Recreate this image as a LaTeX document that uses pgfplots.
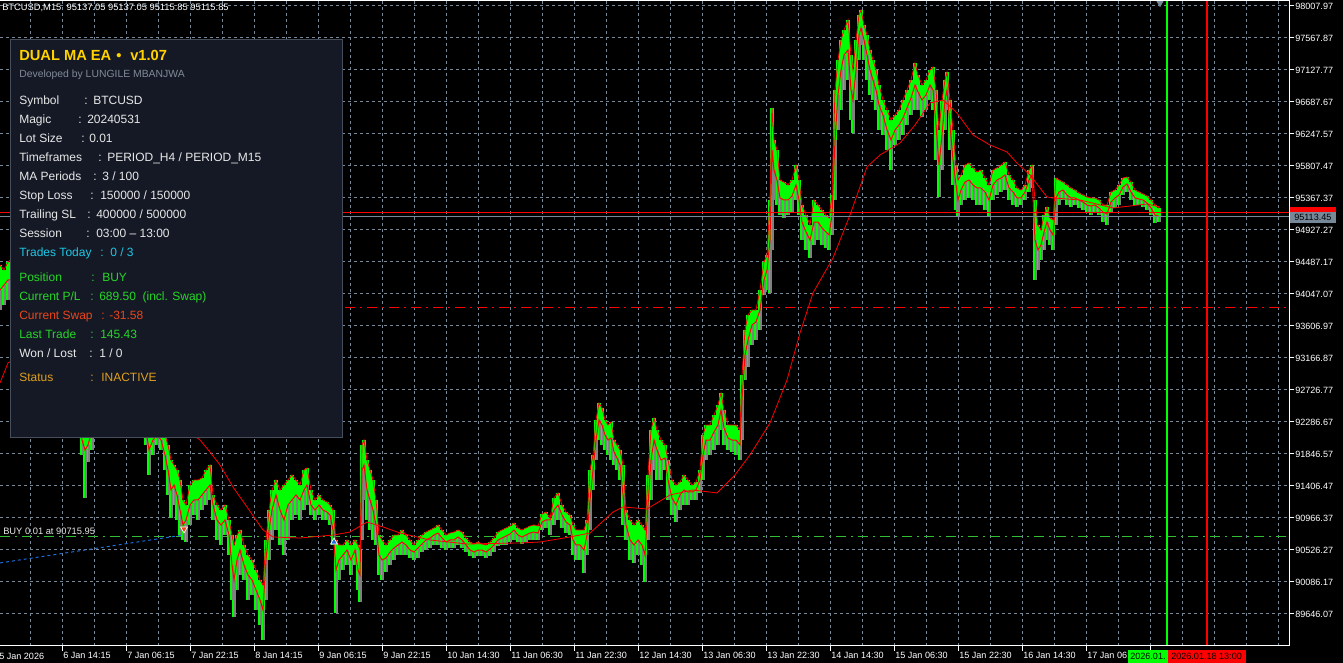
\documentclass[border=0pt]{standalone}
\usepackage{fontspec}
\setmainfont{Liberation Sans}
\usepackage{pgfplots}
\pgfplotsset{compat=1.18}
\usepackage{pgfplotstable}
\definecolor{gridc}{RGB}{119,136,153}
\definecolor{cgreen}{RGB}{0,255,0}
\definecolor{cred}{RGB}{255,0,0}
\definecolor{cgray}{RGB}{128,128,128}
\definecolor{panelbg}{RGB}{20,25,37}
\definecolor{panelb}{RGB}{70,78,92}
\definecolor{gold}{RGB}{255,210,0}
\definecolor{devgray}{RGB}{130,138,152}
\definecolor{ptext}{RGB}{232,232,232}
\definecolor{pcyan}{RGB}{30,200,230}
\definecolor{pgreen}{RGB}{40,215,40}
\definecolor{pswap}{RGB}{235,70,25}
\definecolor{pstatus}{RGB}{225,160,30}
\definecolor{tradeblue}{RGB}{30,110,220}
\definecolor{entryg}{RGB}{50,190,50}

\pgfplotstableread{
x lo hi cl
0 93827 94446 94102
4 93896 94377 94171
8 93965 94487 94240
16 93965 94583 94240
24 93690 94377 93965
32 93552 94102 93827
40 93277 93965 93552
48 93002 93552 93277
56 92864 93414 93139
64 92589 93139 92795
72 92314 92864 92589
78 92177 92658 92383
82 91833 92314 92039
85 91242 92177 91902
88 91736 92245 91970
92 91902 92383 92177
100 92177 92727 92452
108 92314 92864 92589
116 92452 93002 92727
124 92383 92864 92658
132 92245 92727 92452
140 92108 92589 92314
146 91970 92452 92177
149 91558 92245 91902
153 91833 92314 92039
157 91970 92383 92108
161 91902 92314 92039
165 91627 92108 91833
168 91283 91970 91627
171 90966 91764 91352
174 91145 91695 91420
177 90939 91627 91283
180 90732 91489 91076
183 90664 91214 90870
186 90636 91145 90939
190 90870 91420 91145
194 91007 91489 91214
198 90939 91489 91214
202 91076 91517 91283
206 91145 91627 91352
210 91214 91695 91420
213 90939 91283 91145
217 90664 91145 90939
221 90595 91076 90870
225 90732 91145 90939
229 90457 90939 90732
232 89839 90732 90320
234 89605 90595 90114
237 89976 90732 90389
240 90182 90801 90526
244 90114 90595 90320
248 89839 90457 90182
252 89907 90389 90114
256 89701 90251 89976
260 89495 90114 89839
263 89288 90045 89701
266 89839 90664 90389
269 90389 91076 90801
272 90664 91352 91076
276 90801 91489 91283
280 90595 91352 91076
284 90457 91420 90939
288 90664 91489 91145
292 90939 91558 91214
296 91007 91489 91283
300 90939 91420 91214
304 91076 91627 91352
307 91145 91655 91420
311 91007 91352 91145
315 90939 91214 91076
319 91007 91283 91145
323 90939 91214 91076
327 90939 91186 91048
330 90870 91145 91007
333 90595 91076 90801
336 89660 90664 90251
339 90114 90595 90389
343 90251 90595 90457
347 90320 90664 90526
351 90182 90595 90389
355 90320 90664 90526
358 89976 90595 90251
360 89811 90526 90182
362 90664 91970 91627
364 91214 92039 91695
367 90939 91764 91352
370 90801 91627 91214
373 90664 91489 91076
376 90595 91214 90870
379 90182 90732 90457
382 90114 90664 90389
386 90223 90595 90416
390 90320 90664 90498
394 90389 90732 90554
398 90457 90732 90595
402 90457 90801 90636
406 90457 90732 90595
410 90416 90664 90526
414 90389 90595 90498
418 90416 90664 90554
422 90498 90732 90609
426 90526 90773 90664
430 90554 90801 90691
434 90595 90829 90732
438 90595 90870 90760
442 90554 90801 90691
446 90526 90732 90636
450 90554 90760 90664
454 90554 90773 90664
458 90595 90801 90705
462 90554 90773 90664
466 90498 90691 90595
470 90443 90636 90526
474 90416 90609 90498
478 90443 90636 90526
482 90443 90609 90526
486 90416 90595 90498
490 90443 90636 90540
494 90498 90691 90595
498 90581 90773 90664
502 90595 90801 90691
506 90595 90829 90718
510 90636 90856 90746
514 90664 90898 90801
518 90636 90829 90732
522 90609 90801 90705
526 90636 90829 90732
530 90664 90856 90760
534 90664 90870 90773
538 90664 90856 90760
542 90801 91021 90911
546 90829 91048 90939
550 90732 90966 90939
554 90870 91242 91076
558 90939 91311 91145
562 90829 91145 91007
566 90760 91048 90911
570 90732 91007 90870
573 90457 90870 90664
576 90389 90801 90595
580 90389 90801 90595
584 90210 90801 90526
587 90457 90939 90732
590 90801 91627 91214
593 91352 91833 91627
596 91764 92314 92039
599 92039 92548 92314
602 91970 92479 92245
605 91902 92314 92108
608 91833 92245 92039
611 91764 92286 92067
614 91695 92039 91874
617 91627 91970 91792
620 91489 91902 91695
623 90870 91695 91283
626 90664 91076 90870
630 90389 90939 90664
634 90348 90870 90595
638 90457 90939 90664
642 90320 90870 90595
645 90086 90801 90457
648 90664 91558 91145
651 91214 92177 91764
654 91627 92342 92039
657 91489 92177 91902
661 91489 92039 91764
665 91627 91970 91792
668 91214 91764 91489
672 91007 91489 91242
676 90911 91420 91145
680 91076 91461 91283
684 91145 91558 91352
688 91145 91489 91324
692 91214 91420 91324
696 91214 91461 91352
700 91311 91627 91489
703 91489 92108 91833
706 91764 92245 92039
710 91833 92245 92039
714 91902 92383 92149
718 91970 92520 92245
721 92177 92686 92452
724 91970 92452 92204
728 91902 92245 92067
732 91874 92245 92039
736 91833 92245 92039
740 91764 92177 91970
742 92039 92933 92589
745 92864 93552 93208
748 93043 93758 93414
752 93345 93827 93621
756 93414 93827 93662
760 93552 94102 93827
764 94033 94487 94240
767 94102 94583 94377
770 94061 95340 94790
772 94652 96606 96028
774 95340 96165 95753
777 95271 96028 95615
780 95133 95615 95368
784 95093 95587 95340
788 95133 95546 95340
792 95174 95615 95394
796 95340 95821 95546
799 95133 95615 95340
802 94790 95271 95037
806 94652 95133 94899
810 94543 94996 94790
814 94721 95340 95037
818 94790 95271 95037
822 94721 95202 94955
826 94680 95133 94899
829 94652 95093 94858
832 94858 95408 95133
835 95340 96853 96165
838 96303 97265 96784
841 96578 97540 97128
844 96853 97678 97334
848 96990 97815 97403
851 96440 97334 96853
853 96262 97128 96715
856 96715 97540 97128
859 97265 97884 97609
861 97471 97953 97705
864 97265 97746 97540
867 96990 97609 97334
870 96784 97403 97128
873 96715 97265 96990
876 96578 97128 96853
879 96303 96921 96646
883 96234 96715 96509
887 96028 96578 96303
891 95753 96440 96165
895 96096 96509 96303
899 96165 96578 96371
903 96234 96715 96468
907 96371 96853 96606
911 96509 96990 96743
915 96578 97224 96921
918 96578 97059 96825
922 96482 96921 96715
926 96578 96990 96784
930 96715 97128 96921
933 96578 97169 96853
936 95890 96853 96371
939 95381 96303 95821
942 95753 96715 96234
945 96303 96990 96715
947 96578 97100 96853
950 96028 96715 96371
953 95546 96303 95890
956 95202 95821 95546
958 95106 95615 95340
961 95271 95684 95477
965 95340 95821 95587
969 95368 95849 95615
973 95340 95781 95546
977 95271 95725 95505
981 95271 95753 95505
985 95202 95643 95449
989 95106 95546 95340
993 95340 95753 95546
997 95408 95781 95615
1001 95449 95821 95643
1005 95477 95862 95684
1009 95340 95684 95505
1013 95271 95615 95449
1017 95244 95505 95368
1021 95271 95477 95368
1025 95340 95546 95449
1029 95449 95753 95615
1032 95505 95821 95684
1035 94240 95340 94790
1038 94377 94996 94652
1041 94515 94927 94721
1044 94652 95133 94899
1047 94790 95244 95037
1050 94721 95093 94927
1053 94652 95065 94858
1056 94996 95643 95368
1059 95271 95615 95449
1063 95340 95587 95477
1067 95271 95546 95408
1071 95244 95505 95368
1075 95271 95477 95368
1079 95230 95436 95340
1083 95202 95408 95312
1087 95174 95381 95271
1091 95133 95368 95257
1095 95161 95368 95271
1099 95133 95340 95230
1103 95037 95271 95174
1107 94996 95271 95147
1111 95174 95449 95312
1115 95230 95477 95368
1119 95271 95546 95408
1123 95408 95643 95518
1127 95449 95656 95560
1131 95340 95587 95449
1135 95271 95477 95368
1139 95271 95449 95353
1143 95244 95422 95340
1147 95202 95394 95299
1151 95133 95340 95230
1155 95024 95271 95133
1159 95037 95230 95115.85
}\candles

\pgfplotstableread{
x ma
0 92823
8 93098
20 93208
40 93277
60 93139
80 92933
100 92795
120 92658
140 92520
160 92383
180 92245
200 92039
210 91874
220 91695
233 91393
247 91118
263 90801
273 90705
300 90691
333 90732
350 90773
367 90911
383 90843
400 90760
430 90664
467 90609
520 90623
540 90636
570 90705
590 90760
613 91048
623 91118
647 91090
670 91283
693 91352
717 91311
735 91558
750 91833
770 92273
787 92864
800 93511
813 94061
833 94543
850 95133
867 95793
880 95959
900 96124
915 96371
930 96674
943 96715
957 96537
973 96234
990 96096
1007 96000
1017 95849
1030 95684
1047 95381
1053 95368
1080 95340
1113 95230
1147 95285
1160 95244
}\maline

\tikzset{pt/.style={anchor=base west, inner sep=0pt, font=\fontsize{9}{11}\selectfont}}
\newcommand\pl[6]{%
  \node[pt,text=#6] at (19,#1) {#2};
  \node[pt,text=#6] at (#3,#1) {:};
  \node[pt,text=#6] at (#4,#1) {#5};}

\begin{document}
\begin{tikzpicture}
\fill[black] (0,0) rectangle (1007.25pt,497.25pt);
\begin{scope}
\clip (0,0) rectangle (1007.25pt,497.25pt);
\begin{axis}[
  at={(0pt,12.75pt)}, anchor=south west,
  scale only axis, width=966.75pt, height=483.75pt,
  xmin=0, xmax=1289, ymin=89205.97, ymax=98076.7,
  axis line style={draw=none},
  xtick={62,126,190,254,318,382,446,510,574,638,702,766,830,894,958,1022,1086,1150},
  xticklabels={6 Jan 14:15, 7 Jan 06:15, 7 Jan 22:15, 8 Jan 14:15, 9 Jan 06:15, 9 Jan 22:15, 10 Jan 14:30, 11 Jan 06:30, 11 Jan 22:30, 12 Jan 14:30, 13 Jan 06:30, 13 Jan 22:30, 14 Jan 14:30, 15 Jan 06:30, 15 Jan 22:30, 16 Jan 14:30, 17 Jan 06:, {}},
  minor xtick={30,94,158,222,286,350,414,478,542,606,670,734,798,862,926,990,1054,1118,1182,1246,1214,1278},
  ytick={89646.07,90086.17,90526.27,90966.37,91406.47,91846.57,92286.67,92726.77,93166.87,93606.97,94047.07,94487.17,94927.27,95367.37,95807.47,96247.57,96687.67,97127.77,97567.87,98007.97},
  yticklabels={89646.07,90086.17,90526.27,90966.37,91406.47,91846.57,92286.67,92726.77,93166.87,93606.97,94047.07,94487.17,94927.27,95367.37,95807.47,96247.57,96687.67,97127.77,97567.87,98007.97},
  xtick pos=left, ytick pos=right, yticklabel pos=right,
  tick align=outside, major tick length=3.75pt, minor tick length=0pt,
  major tick style={white, line width=0.75pt},
  xmajorgrids, xminorgrids, ymajorgrids,
  major grid style={draw=gridc, line width=0.75pt, dash pattern=on 2.25pt off 2.25pt},
  minor grid style={draw=gridc, line width=0.75pt, dash pattern=on 2.25pt off 2.25pt},
  tick label style={font=\fontsize{6.8}{8}\selectfont, text=white},
  xticklabel style={anchor=north west, inner sep=0.75pt},
  yticklabel style={anchor=west, inner sep=0pt, xshift=0.75pt},
]
% entry and stop lines
\addplot[entryg, line width=0.75pt, dash pattern=on 7.5pt off 3.75pt on 1.5pt off 3.75pt] coordinates {(0,90715.95) (1289,90715.95)};
\addplot[cred, line width=0.75pt, dash pattern=on 7.5pt off 3.75pt on 1.5pt off 3.75pt] coordinates {(345,93868) (1289,93868)};
% candles
\addplot[cgreen, line width=2.4pt, quiver={u=0, v=\thisrow{hi}-\thisrow{lo}}] table[x=x, y=lo] {\candles};
\addplot[cgray, line width=0.9pt, xshift=0.75pt, quiver={u=0, v=\thisrow{cl}-\thisrow{lo}}] table[x=x, y=lo] {\candles};
\addplot[cred, line width=0.6pt] table[x=x, y=hi] {\candles};
\addplot[cred, line width=0.75pt] table[x=x, y=cl] {\candles};
% moving average
\addplot[cred, line width=0.6pt] table[x=x, y=ma] {\maline};
% bid / ask
\addplot[cred, line width=0.75pt] coordinates {(0,95163.45) (1289,95163.45)};
\addplot[gridc, line width=0.75pt] coordinates {(0,95113.45) (1289,95113.45)};
% vertical session lines
\addplot[cgreen, line width=1.5pt] coordinates {(1167,89205.97) (1167,98076.7)};
\addplot[cred, line width=1.5pt] coordinates {(1207,89205.97) (1207,98076.7)};
% trade
\addplot[tradeblue, line width=0.75pt, dash pattern=on 2.25pt off 2.25pt] coordinates {(0,90348) (183,90732)};
\addplot[only marks, mark=triangle*, mark size=3pt, mark options={rotate=180, fill=pswap, draw=white, line width=0.5pt}] coordinates {(184,90815)};
\addplot[only marks, mark=triangle*, mark size=3pt, mark options={fill=tradeblue, draw=white, line width=0.5pt}] coordinates {(334,90636)};
\addplot[only marks, mark=triangle*, mark size=3.5pt, mark options={rotate=180, fill=gridc, draw=gridc}] coordinates {(1160,98063)};
\end{axis}

\begin{scope}[x=0.75pt, y=-0.75pt, shift={(0pt,497.25pt)}]
% frame
\draw[white, line width=0.75pt] (0,646) -- (1289.5,646) -- (1289.5,0.5) -- (0,0.5);
% header
\node[anchor=base west, inner sep=0pt, text=white, font=\fontsize{7}{8}\selectfont] at (2,10.5) {BTCUSD,M15\ \ 95137.05 95137.05 95115.85 95115.85};
\node[anchor=base west, inner sep=0pt, text=ptext, font=\fontsize{7}{8}\selectfont] at (3,535) {BUY 0.01 at 90715.95};
\node[anchor=base west, inner sep=0pt, text=white, font=\fontsize{6.8}{8}\selectfont] at (-1,660) {5 Jan 2026};
% price tags
\fill[cred] (1290,207.5) rectangle (1336,213);
\fill[gridc] (1290,212.3) rectangle (1336,222.7);
\node[anchor=base west, inner sep=0pt, text=black, font=\fontsize{6.8}{8}\selectfont] at (1294,220.5) {95113.45};
% time tags
\fill[cgreen] (1128,650) rectangle (1168,663);
\node[anchor=base west, inner sep=0pt, text=black, font=\fontsize{6.8}{8}\selectfont] at (1130,660) {2026.01.};
\fill[cred] (1168,650) rectangle (1246,663);
\node[anchor=base west, inner sep=0pt, text=black, font=\fontsize{6.8}{8}\selectfont] at (1171,660) {2026.01.18 13:00};
% panel
\fill[panelbg] (10,39) rectangle (343,438);
\draw[panelb, line width=0.75pt] (10.5,39.5) rectangle (342.5,437.5);
\node[anchor=base west, inner sep=0pt, text=gold, font=\fontsize{11}{13}\selectfont\bfseries] at (19,61) {DUAL MA EA};
\node[anchor=base west, inner sep=0pt, text=gold, font=\fontsize{11}{13}\selectfont\bfseries] at (116,61) {•};
\node[anchor=base west, inner sep=0pt, text=gold, font=\fontsize{11}{13}\selectfont\bfseries] at (130,61) {v1.07};
\node[anchor=base west, inner sep=0pt, text=devgray, font=\fontsize{7.8}{9}\selectfont] at (19,78) {Developed by LUNGILE MBANJWA};
\pl{105}{Symbol}{84}{93}{BTCUSD}{ptext}
\pl{124}{Magic}{78}{87}{20240531}{ptext}
\pl{143}{Lot Size}{81}{89}{0.01}{ptext}
\pl{162}{Timeframes}{98}{107}{PERIOD\_H4 / PERIOD\_M15}{ptext}
\pl{181}{MA Periods}{93}{102}{3 / 100}{ptext}
\pl{200}{Stop Loss}{90}{100}{150000 / 150000}{ptext}
\pl{219}{Trailing SL}{87}{96}{400000 / 500000}{ptext}
\pl{238}{Session}{86}{96}{03:00 – 13:00}{ptext}
\pl{257}{Trades Today}{100}{110}{0 / 3}{pcyan}
\pl{282}{Position}{91}{102}{BUY}{pgreen}
\pl{301}{Current P/L}{90}{99}{689.50\ \ (incl. Swap)}{pgreen}
\pl{320}{Current Swap}{101}{109}{-31.58}{pswap}
\pl{339}{Last Trade}{90}{100}{145.43}{pgreen}
\pl{358}{Won / Lost}{89}{99}{1 / 0}{ptext}
\pl{381.5}{Status}{90}{101}{INACTIVE}{pstatus}
\end{scope}
\end{scope}
\path[use as bounding box] (0,0) rectangle (1007.25pt,497.25pt);
\end{tikzpicture}
\end{document}
